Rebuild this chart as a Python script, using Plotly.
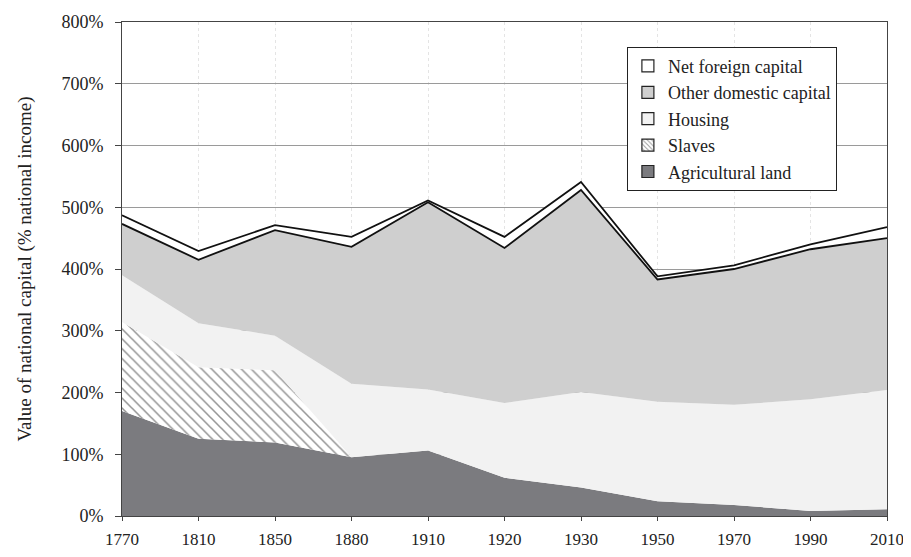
import plotly.graph_objects as go

years = ["1770", "1810", "1850", "1880", "1910", "1920", "1930", "1950", "1970", "1990", "2010"]

# stacked shares, % of national income
agricultural_land = [170, 125, 119, 95, 106, 62, 46, 24, 18, 8, 11]
slaves = [144, 116, 117, 0, 0, 0, 0, 0, 0, 0, 0]
housing = [76, 71, 56, 119, 99, 121, 155, 161, 162, 181, 193]
other_domestic = [83, 103, 171, 222, 303, 251, 327, 198, 220, 243, 246]
net_foreign = [14, 14, 8, 16, 3, 18, 13, 5, 6, 8, 18]

y_ticks = [0, 100, 200, 300, 400, 500, 600, 700, 800]
y_labels = [f"{v}%" for v in y_ticks]

FONT = "Liberation Serif"
LAND = "#7b7b7f"
HOUSE = "#f2f2f2"
OTHER = "#cfcfcf"

fig = go.Figure()

# stacked areas (legend drawn by the square swatches below)
fig.add_trace(go.Scatter(
    x=years, y=agricultural_land, name="Agricultural land", stackgroup="k",
    mode="lines", line=dict(width=0, color=LAND), fillcolor=LAND, showlegend=False
))
fig.add_trace(go.Scatter(
    x=years, y=slaves, name="Slaves", stackgroup="k",
    mode="lines", line=dict(width=0, color="#333333"), fillcolor="white",
    fillpattern=dict(shape="\\", fgcolor="#2a2a2a", bgcolor="white",
                     size=7, solidity=0.22),
    showlegend=False
))
fig.add_trace(go.Scatter(
    x=years, y=housing, name="Housing", stackgroup="k",
    mode="lines", line=dict(width=0, color=HOUSE), fillcolor=HOUSE, showlegend=False
))
fig.add_trace(go.Scatter(
    x=years, y=other_domestic, name="Other domestic capital", stackgroup="k",
    mode="lines", line=dict(width=1.8, color="#111111"), fillcolor=OTHER,
    showlegend=False
))
fig.add_trace(go.Scatter(
    x=years, y=net_foreign, name="Net foreign capital", stackgroup="k",
    mode="lines", line=dict(width=1.8, color="#111111"), fillcolor="white",
    showlegend=False
))

# legend swatches: small outlined squares like the original
swatches = [
    ("Agricultural land", LAND, ""),
    ("Slaves", "white", "\\"),
    ("Housing", HOUSE, ""),
    ("Other domestic capital", OTHER, ""),
    ("Net foreign capital", "white", ""),
]
for name, color, shape in swatches:
    fig.add_trace(go.Bar(
        x=[None], y=[None], name=name,
        marker=dict(color=color, line=dict(color="#222222", width=1.2),
                    pattern=dict(shape=shape, fgcolor="#333333", size=4, solidity=0.3))
    ))

fig.update_layout(
    width=911, height=557,
    margin=dict(l=114, r=32, t=14, b=49),
    paper_bgcolor="white", plot_bgcolor="white",
    font=dict(family=FONT, size=16, color="#222222"),
    legend=dict(
        x=0.66, y=0.95, xanchor="left", yanchor="top",
        traceorder="reversed", bgcolor="white",
        bordercolor="#222222", borderwidth=1,
        font=dict(family=FONT, size=18, color="#222222"),
        itemwidth=30, tracegroupgap=0
    ),
    xaxis=dict(
        type="category", range=[0, len(years) - 1], automargin=False,
        showgrid=True, gridcolor="#e4e4e4", griddash="dot", gridwidth=1,
        showline=True, linecolor="#444444", mirror=True,
        ticks="outside", ticklen=4, tickcolor="#444444",
        tickfont=dict(size=17), ticklabelstandoff=4
    ),
    yaxis=dict(
        range=[0, 800], tickvals=y_ticks, ticktext=y_labels, automargin=False,
        showgrid=True, gridcolor="#9a9a9a", gridwidth=1,
        showline=True, linecolor="#444444", mirror=True,
        ticks="outside", ticklen=6, tickcolor="#444444",
        tickfont=dict(size=18), zeroline=False, ticklabelstandoff=8,
        title=dict(text="Value of national capital (% national income)",
                   font=dict(size=19), standoff=24)
    ),
)

fig.write_html("out.html")
